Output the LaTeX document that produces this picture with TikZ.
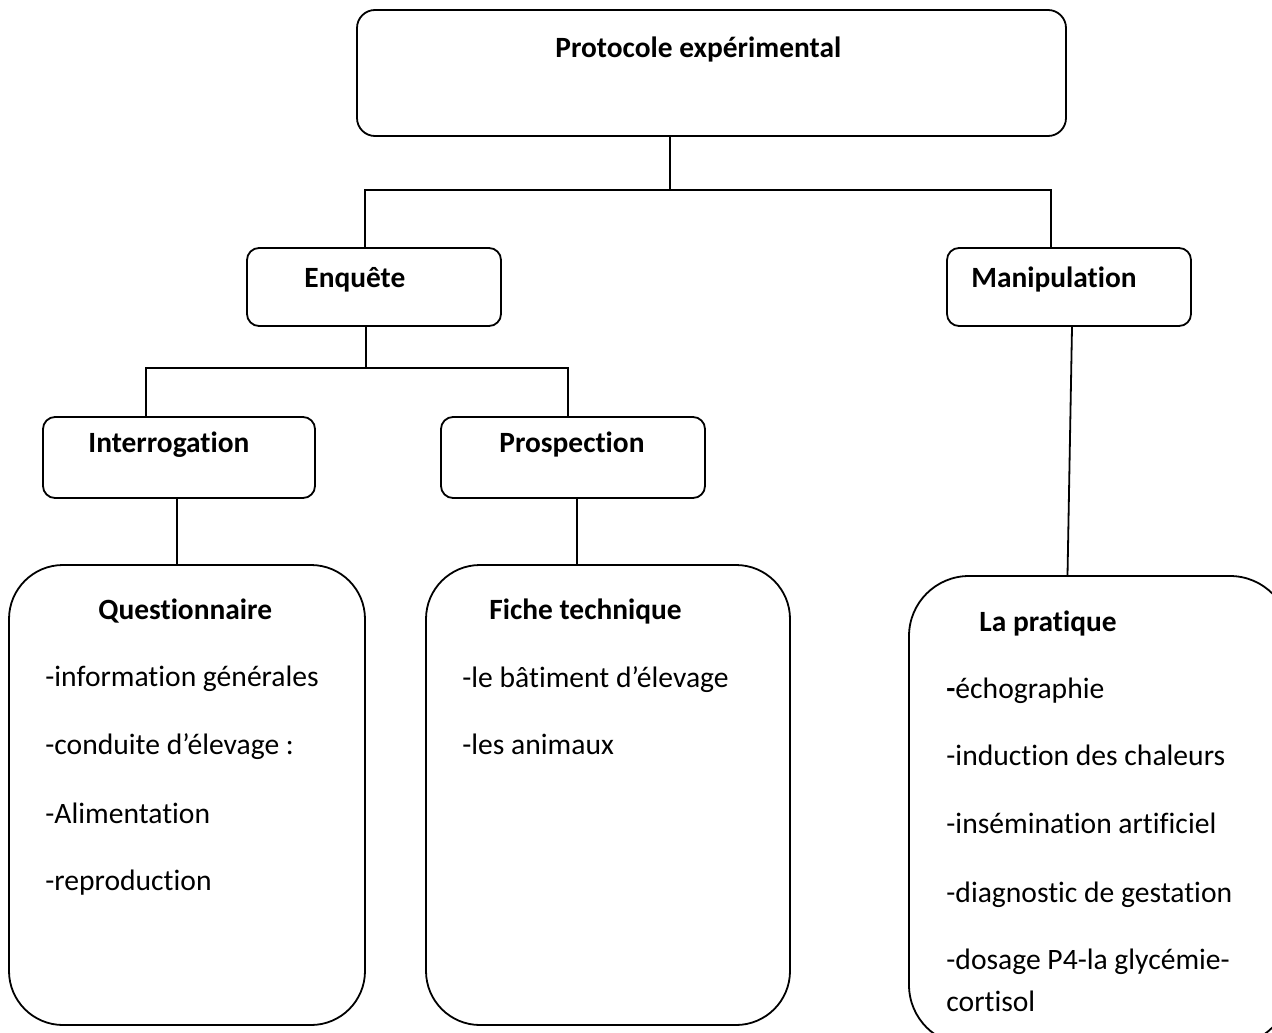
\documentclass[tikz,border=0pt]{standalone}
\usepackage{fontspec}
\setmainfont{Carlito}[Ligatures=NoCommon]
\usetikzlibrary{positioning, calc}

\begin{document}
\begin{tikzpicture}[
  x=0.5pt, y=-0.5pt,
  box/.style={draw, line width=0.9pt, rounded corners=6pt, inner sep=0},
  topbox/.style={box, rounded corners=9pt},
  bigbox/.style={box, rounded corners=27pt},
  link/.style={line width=0.9pt},
  lbl/.style={font=\bfseries\fontsize{14.7}{17}\selectfont, anchor=base west, inner sep=0},
  item/.style={font=\fontsize{14.8}{17}\selectfont, anchor=base west, inner sep=0},
]

\clip (0,0) rectangle (1272,1032);

% Top level
\node[topbox, minimum width=354.5pt, minimum height=63pt] (proto) at (711.5,73) {};
\node[lbl] (protot) at (555,58) {Protocole expérimental};

% Second level
\node[box, minimum width=127pt, minimum height=39pt] (enq) at (374,287) {};
\node[lbl] (enqt) at (304,287) {Enquête};
\node[box, minimum width=122pt, minimum height=39pt] (manip) at (1069,287) {};
\node[lbl] (manipt) at (971,287) {Manipulation};

% Third level
\node[box, minimum width=136pt, minimum height=40.5pt] (inter) at (179,457.5) {};
\node[lbl] (intert) at (88,452) {Interrogation};
\node[box, minimum width=132pt, minimum height=40.5pt] (prosp) at (573,457.5) {};
\node[lbl] (prospt) at (499,452) {Prospection};

% Bottom boxes
\node[bigbox, minimum width=178pt, minimum height=230pt] (quest) at (187,795) {};
\node[bigbox, minimum width=182pt, minimum height=230pt] (fiche) at (608,795) {};
\node[bigbox, rounded corners=30pt, minimum width=190.5pt, minimum height=234.5pt] (prat) at (1099.5,810.5) {};

% Questionnaire
\node[lbl] (questt) at (98,619) {Questionnaire};
\node[item] (q1) at (45,686) {-information générales};
\node[item] (q2) at (45,754) {-conduite d’élevage :};
\node[item] (q3) at (45,823) {-Alimentation};
\node[item] (q4) at (45,890) {-reproduction};

% Fiche technique
\node[lbl] (fichet) at (489,619) {Fiche technique};
\node[item] (f1) at (462,687) {-le bâtiment d’élevage};
\node[item] (f2) at (462,754) {-les animaux};

% La pratique
\node[lbl] (pratt) at (979,631) {La pratique};
\node[item] (p1) at (946,698) {\textbf{-}échographie};
\node[item] (p2) at (946,765) {-induction des chaleurs};
\node[item] (p3) at (946,833) {-insémination artificiel};
\node[item] (p4) at (946,902) {-diagnostic de gestation};
\node[item] (p5) at (946,969) {-dosage P4-la glycémie-};
\node[item] (p6) at (946,1011) {cortisol};

% Connectors
\coordinate (fork1) at (670,190);
\coordinate (fork2) at (366,368);
\coordinate (qtop) at ($(inter.south)+(-2,0)$);
\coordinate (ftop) at ($(prosp.south)+(4,0)$);
\draw[link] (proto.south -| fork1) -- (fork1);
\draw[link] ($(enq.north)+(-9,0)$) |- (fork1) -| ($(manip.north)+(-18,0)$);
\draw[link] (enq.south -| fork2) -- (fork2);
\draw[link] ($(inter.north)+(-33,0)$) |- (fork2) -| ($(prosp.north)+(-5,0)$);
\draw[link] (qtop) -- (qtop |- quest.north);
\draw[link] (ftop) -- (ftop |- fiche.north);
\draw[link] ($(manip.south)+(3,0)$) -- ($(prat.north)+(-32,0)$);

\end{tikzpicture}
\end{document}
